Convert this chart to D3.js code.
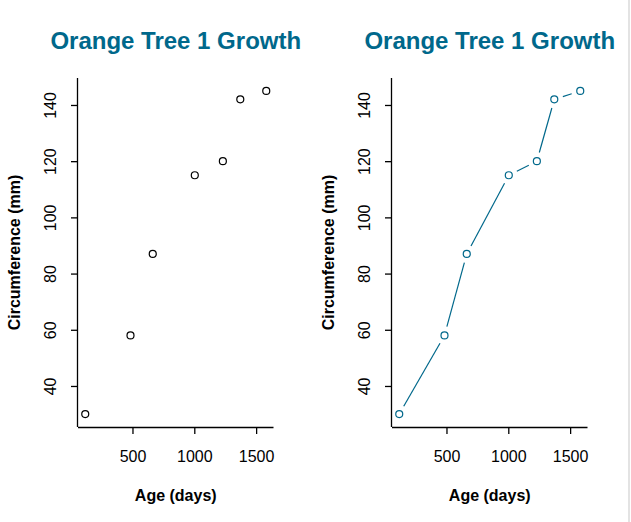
<!DOCTYPE html>
<html>
<head>
<meta charset="utf-8">
<script src="https://cdn.jsdelivr.net/npm/d3@7"></script>
<style>
  html, body { margin: 0; padding: 0; background: #fff; }
  svg { display: block; font-family: "Liberation Sans", Arial, sans-serif; }
</style>
</head>
<body>
<svg id="chart" width="631" height="522"></svg>
<script>
const ages = [118, 484, 664, 1004, 1231, 1372, 1582];
const circumference = [30, 58, 87, 115, 120, 142, 145];
const xTicks = [500, 1000, 1500];
const yTicks = [40, 60, 80, 100, 120, 140];
const titleText = "Orange Tree 1 Growth";
const xLabel = "Age (days)";
const yLabel = "Circumference (mm)";
const accent = "#00688B";

const svg = d3.select("#chart");
svg.append("rect").attr("x", 628).attr("y", 0).attr("width", 2).attr("height", 522).attr("fill", "#e3e3e3");

const data = ages.map((a, i) => ({x: a, y: circumference[i]}));
const xExt = d3.extent(ages), yExt = d3.extent(circumference);
const xPad = (xExt[1] - xExt[0]) * 0.04, yPad = (yExt[1] - yExt[0]) * 0.04;

function panel(left, right, withLine) {
  const top = 78, bottom = 427;
  const x = d3.scaleLinear().domain([xExt[0] - xPad, xExt[1] + xPad]).range([left, right]);
  const y = d3.scaleLinear().domain([yExt[0] - yPad, yExt[1] + yPad]).range([bottom, top]);
  const g = svg.append("g");
  const col = withLine ? accent : "#000";

  // x axis
  const xa = g.append("g").attr("transform", `translate(0,${bottom})`)
    .call(d3.axisBottom(x).tickValues(xTicks).tickSize(7).tickSizeOuter(0).tickFormat(d3.format("d")));
  xa.attr("font-size", 16).attr("font-family", "Liberation Sans, Arial, sans-serif");
  xa.select(".domain").attr("d", `M${left},0.5H${right}`).attr("stroke", "#000").attr("stroke-width", 1.3);
  xa.selectAll("line").attr("stroke", "#000").attr("stroke-width", 1.3);
  xa.selectAll("text").attr("font-size", 16).attr("fill", "#000")
    .attr("y", 35).attr("dy", null);

  // y axis
  const ya = g.append("g").attr("transform", `translate(${left},0)`)
    .call(d3.axisLeft(y).tickValues(yTicks).tickSize(7).tickSizeOuter(0));
  ya.attr("font-size", 16).attr("font-family", "Liberation Sans, Arial, sans-serif");
  ya.select(".domain").attr("d", `M-0.5,${top}V${bottom}`).attr("stroke", "#000").attr("stroke-width", 1.3);
  ya.selectAll("line").attr("stroke", "#000").attr("stroke-width", 1.3);
  ya.selectAll("text")
    .attr("font-size", 16).attr("fill", "#000")
    .attr("x", null).attr("dy", null)
    .attr("text-anchor", "middle")
    .attr("transform", "translate(-22,0) rotate(-90)");

  // line with gaps (type = "b")
  if (withLine) {
    const gap = 9;
    for (let i = 0; i < data.length - 1; i++) {
      const x1 = x(data[i].x), y1 = y(data[i].y), x2 = x(data[i+1].x), y2 = y(data[i+1].y);
      const len = Math.hypot(x2 - x1, y2 - y1);
      if (len <= 2 * gap) continue;
      const ux = (x2 - x1) / len, uy = (y2 - y1) / len;
      g.append("line")
        .attr("x1", x1 + ux * gap).attr("y1", y1 + uy * gap)
        .attr("x2", x2 - ux * gap).attr("y2", y2 - uy * gap)
        .attr("stroke", accent).attr("stroke-width", 1.2);
    }
  }
  g.selectAll("circle.pt").data(data).enter().append("circle")
    .attr("class", "pt")
    .attr("cx", d => x(d.x)).attr("cy", d => y(d.y)).attr("r", 3.5)
    .attr("fill", "none").attr("stroke", col).attr("stroke-width", 1.2);

  const cx = (left + right) / 2;
  g.append("text").attr("x", cx).attr("y", 49).attr("text-anchor", "middle")
    .attr("font-size", 24).attr("font-weight", "bold").attr("fill", accent).text(titleText);
  g.append("text").attr("x", cx).attr("y", 501).attr("text-anchor", "middle")
    .attr("font-size", 16).attr("font-weight", "bold").attr("fill", "#000").text(xLabel);
  g.append("text").attr("transform", `translate(${left - 58},${(top + bottom) / 2}) rotate(-90)`)
    .attr("text-anchor", "middle")
    .attr("font-size", 16).attr("font-weight", "bold").attr("fill", "#000").text(yLabel);
}

panel(78, 273.5, false);
panel(392, 587.5, true);
</script>
</body>
</html>
